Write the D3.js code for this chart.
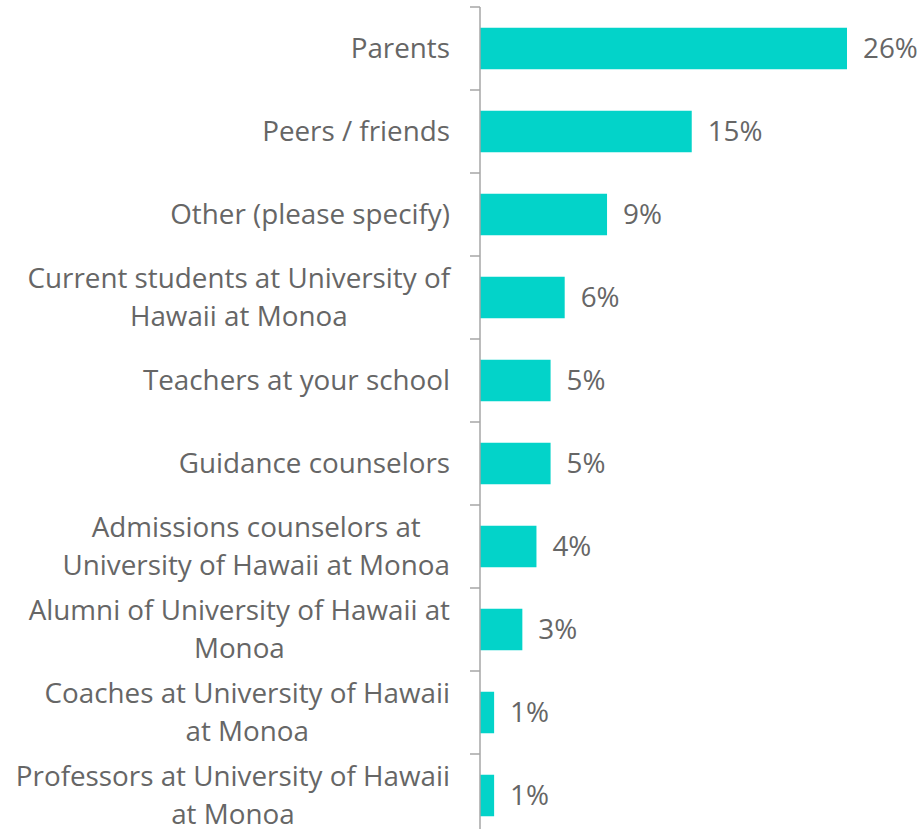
<!DOCTYPE html>
<html>
<head>
<meta charset="utf-8">
<script src="https://cdn.jsdelivr.net/npm/d3@7"></script>
<style>
  body { margin: 0; background: #fff; }
  text { font-family: "Open Sans", sans-serif; fill: #666; }
</style>
</head>
<body>
<div id="chart"></div>
<script>
var svgWidth = 922;
var svgHeight = 829;

// data
var categories = [
  "Parents",
  "Peers / friends",
  "Other (please specify)",
  "Current students at University of\nHawaii at Monoa",
  "Teachers at your school",
  "Guidance counselors",
  "Admissions counselors at\nUniversity of Hawaii at Monoa",
  "Alumni of University of Hawaii at\nMonoa",
  "Coaches at University of Hawaii\nat Monoa",
  "Professors at University of Hawaii\nat Monoa"
];
var values = [26, 15, 9, 6, 5, 5, 4, 3, 1, 1];
var valueLabels = ["26%", "15%", "9%", "6%", "5%", "5%", "4%", "3%", "1%", "1%"];

var axisX = 480;
var fontSize = 27.8;
var lineHeight = 38;

var svg = d3.select("#chart")
  .append("svg")
  .attr("width", svgWidth)
  .attr("height", svgHeight);

var yScale = d3.scaleBand()
  .domain(categories)
  .range([7, 837])
  .paddingInner(0.5)
  .paddingOuter(0.25);

var xScale = d3.scaleLinear()
  .domain([0, 26])
  .range([0, 367]);

var step = yScale.step();

// bars
svg.selectAll("rect.bar")
  .data(categories)
  .enter()
  .append("rect")
  .attr("class", "bar")
  .attr("x", axisX)
  .attr("y", d => yScale(d))
  .attr("width", (d, i) => xScale(values[i]))
  .attr("height", yScale.bandwidth())
  .attr("fill", "#03d3c9");

// axis line and boundary ticks
svg.append("line")
  .attr("x1", axisX).attr("x2", axisX)
  .attr("y1", yScale.range()[0]).attr("y2", yScale.range()[1])
  .attr("stroke", "#a6a6a6")
  .attr("stroke-width", 1.5);

svg.selectAll("line.tick")
  .data(categories)
  .enter()
  .append("line")
  .attr("class", "tick")
  .attr("x1", axisX - 10).attr("x2", axisX)
  .attr("y1", d => yScale(d) - step * 0.25)
  .attr("y2", d => yScale(d) - step * 0.25)
  .attr("stroke", "#a6a6a6")
  .attr("stroke-width", 1.5);

// category labels (multi-line, centred block right-aligned to 450)
categories.forEach(function(cat) {
  var lines = cat.split("\n");
  var cy = yScale(cat) + yScale.bandwidth() / 2;
  var t = svg.append("text")
    .attr("font-size", fontSize)
    .attr("text-anchor", "middle");
  lines.forEach(function(l, j) {
    t.append("tspan")
      .attr("y", cy + (j - (lines.length - 1) / 2) * lineHeight)
      .attr("dy", "0.35em")
      .text(l);
  });
  var maxW = d3.max(t.selectAll("tspan").nodes(), n => n.getComputedTextLength());
  t.selectAll("tspan").attr("x", 450 - maxW / 2);
});

// value labels
svg.selectAll("text.value")
  .data(categories)
  .enter()
  .append("text")
  .attr("class", "value")
  .attr("font-size", fontSize)
  .attr("x", (d, i) => axisX + xScale(values[i]) + 16)
  .attr("y", d => yScale(d) + yScale.bandwidth() / 2)
  .attr("dy", "0.35em")
  .text((d, i) => valueLabels[i]);
</script>
</body>
</html>
